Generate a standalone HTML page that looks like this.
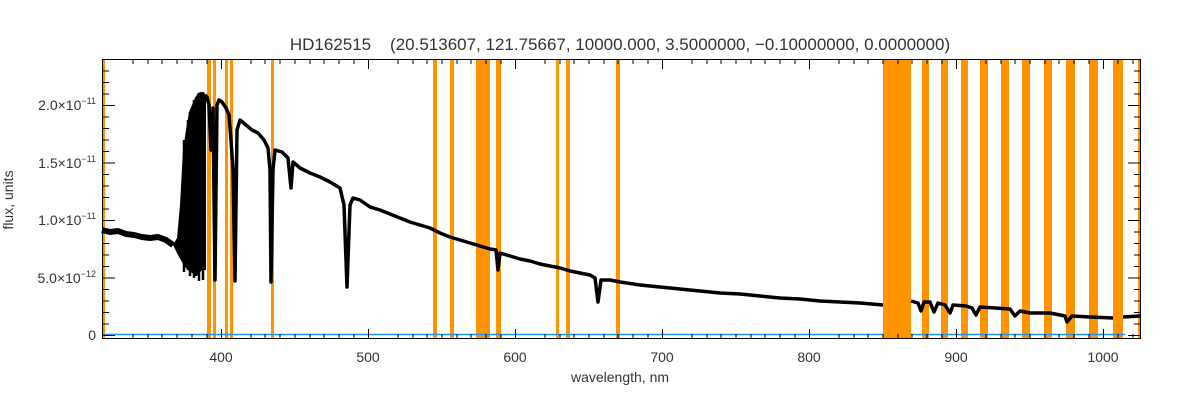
<!DOCTYPE html>
<html><head><meta charset="utf-8"><style>
html,body{margin:0;padding:0;background:#fff;}
svg{display:block;font-family:"Liberation Sans",sans-serif;}
</style></head><body>
<svg width="1200" height="400" viewBox="0 0 1200 400" xmlns="http://www.w3.org/2000/svg">
<rect width="1200" height="400" fill="#fff"/>
<g fill="#ff9400">
<rect x="102" y="59" width="3" height="280"/>
<rect x="207" y="59" width="4" height="280"/>
<rect x="213" y="59" width="3" height="280"/>
<rect x="225" y="59" width="3" height="280"/>
<rect x="230" y="59" width="3" height="280"/>
<rect x="271" y="59" width="3" height="280"/>
<rect x="433" y="59" width="4" height="280"/>
<rect x="450" y="59" width="4" height="280"/>
<rect x="476" y="59" width="14" height="280"/>
<rect x="496" y="59" width="5" height="280"/>
<rect x="556" y="59" width="3" height="280"/>
<rect x="566" y="59" width="4" height="280"/>
<rect x="616" y="59" width="4" height="280"/>
<rect x="883" y="59" width="28" height="280"/>
<rect x="922" y="59" width="7" height="280"/>
<rect x="941" y="59" width="7" height="280"/>
<rect x="961" y="59" width="7" height="280"/>
<rect x="980" y="59" width="8" height="280"/>
<rect x="1001" y="59" width="8" height="280"/>
<rect x="1022" y="59" width="8" height="280"/>
<rect x="1044" y="59" width="8" height="280"/>
<rect x="1066" y="59" width="9" height="280"/>
<rect x="1089" y="59" width="9" height="280"/>
<rect x="1113" y="59" width="10" height="280"/>
<rect x="1138" y="59" width="3" height="280"/>
</g>
<path d="M102 334.5 H883 M911 334.5 H1125" stroke="#1e90ff" stroke-width="1.5" fill="none"/>
<path d="M173 245 L177 238 L180 205 L183 150 L186 130 L189 112 L192 105 L195 98 L198 93 L201 92 L204 93 L206 95 L206 270 L202 270 L198 275 L194 274 L190 272 L186 268 L182 262 L178 255 Z" fill="#000"/>
<path d="M184 272 L184 140 M188 270 L188 120 M190 276 L190 112 M194 278 L194 100 M199 281 L199 93 M203 280 L203 92 M196 276 L196 98" stroke="#000" stroke-width="2.5" fill="none"/>
<path d="M102 230 L110 232 L118 231 L126 234 L134 235 L142 237 L150 238 L158 237 L166 240 L173 245" stroke="#000" stroke-width="6" fill="none" stroke-linejoin="round"/>
<path d="M205 95 L207 97 L209 105 L211 150 L213 108 L215 280 L217 105 L219 100 L222 102 L226 108 L229 115 L231 140 L233 170 L235 281 L237 130 L240 120 L246 125 L252 130 L258 133 L264 140 L268 148 L270 170 L271 282 L273 170 L275 150 L282 152 L288 158 L291 188 L293 162 L300 168 L310 173 L320 177 L330 182 L340 188 L344 205 L347 287 L350 205 L353 198 L360 200 L370 207 L380 210 L390 214 L400 218 L410 222 L420 225 L430 228 L440 233 L450 237 L460 240 L470 243 L480 246 L490 249 L496 250 L498 270 L500 253 L510 256 L520 259 L530 261 L540 264 L550 266 L560 268 L570 271 L580 273 L590 275 L595 278 L598 302 L601 280 L610 280 L620 282 L640 285 L660 287 L680 289 L700 291 L720 293 L740 294 L760 296 L780 298 L800 299 L820 301 L840 302 L860 303 L883 305 M911 301 L918 303 L921 311 L924 302 L930 302 L934 312 L938 303 L945 305 L950 313 L953 305 L966 306 L972 308 L976 315 L980 307 L995 308 L1010 309 L1015 316 L1020 311 L1030 313 L1040 313 L1050 313 L1060 315 L1065 316 L1067 322 L1072 316 L1090 317 L1113 318 M1123 317 L1140 316" stroke="#000" stroke-width="3.5" fill="none" stroke-linejoin="round"/>
<rect x="102.5" y="59.5" width="1038" height="279" fill="none" stroke="#000" stroke-width="1"/>
<g stroke="#000" stroke-width="1">
<path d="M103 335.5h12M103 278h12M103 220.5h12M103 163h12M103 105.5h12M1140 335.5h-12M1140 278h-12M1140 220.5h-12M1140 163h-12M1140 105.5h-12"/>
<path d="M103 324h6M103 312.5h6M103 301h6M103 289.5h6M103 266.5h6M103 255h6M103 243.5h6M103 232h6M103 209h6M103 197.5h6M103 186h6M103 174.5h6M103 151.5h6M103 140h6M103 128.5h6M103 117h6M103 94h6M103 82.5h6M103 71h6M1140 324h-6M1140 312.5h-6M1140 301h-6M1140 289.5h-6M1140 266.5h-6M1140 255h-6M1140 243.5h-6M1140 232h-6M1140 209h-6M1140 197.5h-6M1140 186h-6M1140 174.5h-6M1140 151.5h-6M1140 140h-6M1140 128.5h-6M1140 117h-6M1140 94h-6M1140 82.5h-6M1140 71h-6"/>
<path d="M221.5 339v-10M368.5 339v-10M515.5 339v-10M662.5 339v-10M809.5 339v-10M956.5 339v-10M1103.5 339v-10M221.5 59v10M368.5 59v10M515.5 59v10M662.5 59v10M809.5 59v10M956.5 59v10M1103.5 59v10"/>
<path d="M133 339v-5M148 339v-5M162 339v-5M177 339v-5M192 339v-5M207 339v-5M251 339v-5M265 339v-5M280 339v-5M295 339v-5M310 339v-5M324 339v-5M339 339v-5M354 339v-5M398 339v-5M413 339v-5M427 339v-5M442 339v-5M457 339v-5M471 339v-5M486 339v-5M501 339v-5M545 339v-5M560 339v-5M574 339v-5M589 339v-5M604 339v-5M618 339v-5M633 339v-5M648 339v-5M692 339v-5M707 339v-5M721 339v-5M736 339v-5M751 339v-5M765 339v-5M780 339v-5M795 339v-5M839 339v-5M854 339v-5M868 339v-5M883 339v-5M898 339v-5M912 339v-5M927 339v-5M942 339v-5M986 339v-5M1001 339v-5M1015 339v-5M1030 339v-5M1045 339v-5M1059 339v-5M1074 339v-5M1089 339v-5M1118 339v-5M1133 339v-5"/>
<path d="M133 59v5M148 59v5M162 59v5M177 59v5M192 59v5M207 59v5M251 59v5M265 59v5M280 59v5M295 59v5M310 59v5M324 59v5M339 59v5M354 59v5M398 59v5M413 59v5M427 59v5M442 59v5M457 59v5M471 59v5M486 59v5M501 59v5M545 59v5M560 59v5M574 59v5M589 59v5M604 59v5M618 59v5M633 59v5M648 59v5M692 59v5M707 59v5M721 59v5M736 59v5M751 59v5M765 59v5M780 59v5M795 59v5M839 59v5M854 59v5M868 59v5M883 59v5M898 59v5M912 59v5M927 59v5M942 59v5M986 59v5M1001 59v5M1015 59v5M1030 59v5M1045 59v5M1059 59v5M1074 59v5M1089 59v5M1118 59v5M1133 59v5"/>
</g>
<g font-size="13" fill="#333">
<text x="620" y="50" font-size="17" text-anchor="middle" xml:space="preserve">HD162515    (20.513607, 121.75667, 10000.000, 3.5000000, −0.10000000, 0.0000000)</text>
<g text-anchor="middle" font-size="14">
<text x="221" y="362">400</text><text x="368" y="362">500</text><text x="515" y="362">600</text><text x="662" y="362">700</text><text x="809" y="362">800</text><text x="956" y="362">900</text><text x="1103" y="362">1000</text>
</g>
<text x="620" y="382" text-anchor="middle" font-size="14">wavelength, nm</text>
<g text-anchor="end" font-size="14">
<text x="96" y="340">0</text>
<text x="96" y="283">5.0×10<tspan font-size="9" dy="-6">−12</tspan></text>
<text x="96" y="225">1.0×10<tspan font-size="9" dy="-6">−11</tspan></text>
<text x="96" y="168">1.5×10<tspan font-size="9" dy="-6">−11</tspan></text>
<text x="96" y="110">2.0×10<tspan font-size="9" dy="-6">−11</tspan></text>
</g>
<text transform="translate(13,200) rotate(-90)" text-anchor="middle" font-size="14">flux, units</text>
</g>
</svg>
</body></html>
